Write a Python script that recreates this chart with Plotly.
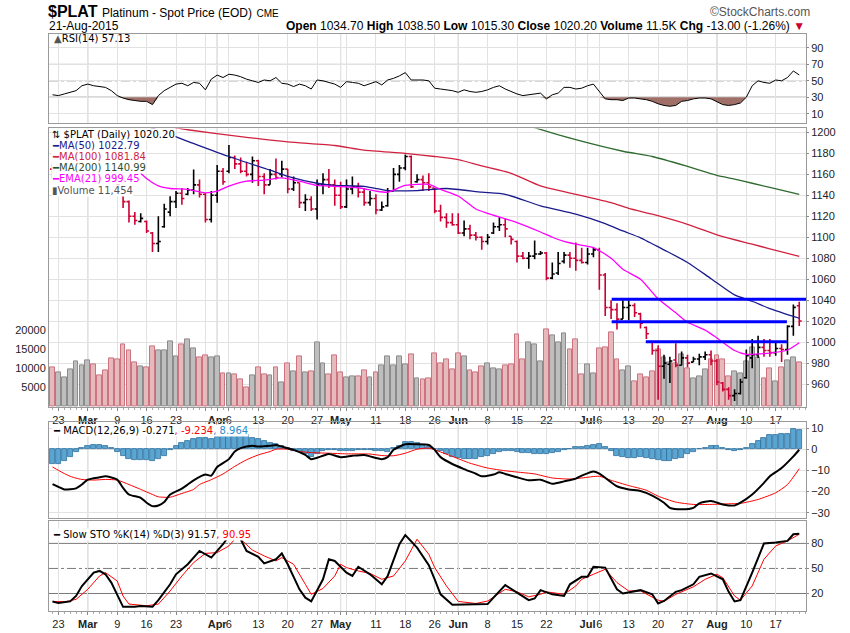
import plotly.graph_objects as go
import pandas as pd

# ---------------- data ----------------
holidays = ["2015-04-03", "2015-05-25", "2015-07-03"]
dates = pd.bdate_range("2015-02-20", "2015-08-21", freq="C", holidays=holidays)
idx = list(range(len(dates)))

opens = [1165,1160,1163,1168,1174,1179,1183,1187,1182,1175,1170,1160,1140,1134,1120,1115,1115,1104,1094,1110,
         1124,1134,1142,1141,1145,1150,1141,1117,1140,1163,1163,1176,1170,1163,1160,1173,1158,1150,1160,1160,
         1165,1146,1152,1133,1136,1127,1150,1155,1150,1140,1129,1146,1148,1143,1133,1137,1126,1130,1144,1160,
         1166,1177,1153,1155,1152,1147,1125,1119,1114,1112,1104,1108,1102,1100,1096,1104,1110,1112,1101,1096,
         1082,1080,1082,1084,1085,1061,1066,1077,1083,1080,1078,1076,1084,1088,1064,1033,1031,1022,1033,1035,
         1027,1014,1000,992,977,979,983,978,985,981,984,986,988,982,961,955,949,951,966,985,
         988,995,992,990,994,993,1015,1034.7]
highs = [1170,1166,1172,1178,1183,1188,1192,1190,1185,1180,1172,1162,1141,1135,1124,1123,1116,1105,1120,1132,
         1139,1144,1147,1147,1164.6,1155,1142,1144,1169,1166,1188,1178,1176,1172,1177,1174,1161,1165,1175,1173,
         1165,1158,1152,1141,1139,1155,1161,1165,1155,1153,1155,1158,1152,1147,1144,1141,1134,1147,1166,1169,
         1179,1178,1160,1159,1161,1147,1131,1123,1123,1123,1116,1112,1105,1101,1103,1114,1119,1118,1101,1097,
         1086,1086,1097,1087,1086,1076,1086,1086,1086,1095,1090,1090,1090,1090,1066,1040,1037,1040,1040,1037,
         1028,1015,1001,997,988,986,999,991,988,986,989,991,992,984,962,957,955,965,993,1003,
         1006,1003,1003,1000,998,1016,1036,1038.5]
lows = [1156,1155,1160,1165,1170,1175,1178,1178,1170,1166,1155,1145,1128,1114,1112,1114,1104,1086,1086,1109,
        1120,1128,1131,1140,1140.9,1138,1114,1114,1133,1150,1161,1165,1161,1158,1152,1149,1141,1150,1155,1157,
        1142,1144,1128,1125,1125,1117,1141,1147,1130,1127,1128,1141,1138,1130,1130,1122,1125,1129,1144,1153,
        1164,1147,1152,1144,1144,1123,1115,1109,1111,1103,1101,1098,1097,1088,1093,1103,1106,1100,1093,1076,
        1079,1070,1079,1083,1059,1060,1064,1075,1071,1068,1075,1074,1081,1050,1025,1022,1012,1022,1021,1024,
        1013,1003,988,945,965,961,976,978,976,981,978,983,978,959,953,945,944,950,965,975,
        985,986,986,987,981,988,1006,1015.3]
closes = [1160,1163,1168,1174,1179,1183,1187,1182,1175,1170,1160,1150,1134,1120,1116,1118,1106,1094,1096,1127,
          1134,1142,1137,1145,1150,1141,1117,1140,1163,1153,1176,1170,1163,1160,1173,1158,1150,1160,1157,1165,
          1146,1152,1133,1136,1127,1150,1155,1150,1140,1129,1146,1148,1143,1133,1137,1126,1129,1144,1160,1166,
          1177,1148,1155,1152,1148,1125,1119,1114,1112,1104,1108,1102,1100,1096,1100,1110,1112,1108,1098,1082,
          1080,1082,1084,1085,1061,1065,1075,1083,1080,1078,1076,1084,1088,1064,1033,1031,1022,1033,1035,1028,
          1018,1008,992,977,980,982,978,985,980,984,986,988,982,962,955,949,951,962,987,988,
          995,992,990,994,993,1015,1033.2,1020.2]
prev_close_before = 1165
volume = [10150,8860,7560,9630,11780,10750,12040,11000,8160,9450,12480,12220,16190,14630,11450,10570,10150,15670,14630,14630,
          16970,13080,16190,17490,15230,12750,13340,12750,13080,8600,8600,8420,7050,5140,8160,10150,8420,8160,10150,6270,
          11190,9200,13080,8860,9200,16790,11190,8330,13340,9030,7740,8000,8000,9450,7560,9030,10750,13080,10750,13080,
          10920,13510,7300,7050,7300,13940,11190,12220,9630,13770,13080,9450,9030,10490,11190,9890,9630,10750,11000,18780,
          12220,16620,16100,11780,20080,18520,16620,18950,14890,17490,8330,11000,8600,15060,15490,19210,12220,9450,10490,6620,
          8420,7560,9200,14890,12750,11450,11360,13510,9890,7300,7910,9630,12220,13340,12220,8000,9200,8590,11780,15490,
          12730,7300,9890,6690,10150,11970,12750,11454]

ma50_x = [0,8,17,23,30,37,40,45,48,53,57,62,67,73,77,83,89,94,97,100,104,108,112,116,119,122,127]
ma50_y = [1232,1218,1204,1191.5,1177,1164,1158,1151.5,1149.5,1148.5,1144.5,1144.5,1146.5,1143,1141,1130,1122,1113,1106,1099.5,1088,1076,1060.5,1045,1039,1032,1022.79]
ma100_x = [0,10,18,23,32,40,48,53,60,65,69,73,78,83,89,95,98,102,108,114,119,122,127]
ma100_y = [1225,1214,1207,1202.5,1196,1191,1187.5,1183,1180,1177,1174,1168,1161,1149,1141,1133,1127.5,1122,1112.4,1100.5,1093.4,1089,1081.84]
ma200_x = [78,82,89,97,102,108,113,116,119,122,127]
ma200_y = [1212,1204.5,1193,1182,1177,1167.5,1159,1155.5,1151.5,1147.5,1140.99]
ema21_x = [10,12,14,16,18,20,23,26,28,30,33,36,39,42,45,48,52,55,57,60,64,66,69,72,74,79,83,85,87,89,92,95,97,100,103,106,108,111,113,116,118,120,122,125,127]
ema21_y = [1185,1175,1166,1156,1149,1146.5,1145.6,1142.4,1144,1148.8,1153.5,1154.5,1156.6,1153.5,1149.4,1148.5,1147.2,1144,1143,1149.4,1150.4,1145.6,1139.3,1127,1122.8,1114,1105,1100,1096,1093.4,1090.2,1080,1069.5,1060,1041.3,1028,1019,1011.5,1004,992,988.3,988.8,989.5,992.5,999.45]

support_levels = [1041, 1019.5, 1000.5]
support_start = [95.1, 95.1, 100.9]
support_end = [128.2, 124.9, 124.9]

rsi = [33,32,34,36,38,44,46,44,43,42,38,32,29,27,26,25,25,21,32,38,
       42,46,47,44,48,47,39,52,57,54,58,57,55,52,50,48,51,50,54,47,
       46,43,46,44,40,51,50,48,46,42,49,48,47,44,47,49,45,51,53,56,
       60,51,51,51,50,41,40,39,38,36,39,37,36,37,39,42,44,40,37,34,
       32,33,34,35,28,33,35,42,42,40,41,44,46,37,28,27,27,26,29,29,
       28,27,25,22,20,19,20,25,26,28,29,29,28,25,21,20,21,23,30,44,
       50,48,47,51,50,54,62,57.13]

macd_x = [0,1,2,4,5,6,8,9,11,12,13,15,16,17,18,19,20,22,23,24,26,27,28,30,31,32,34,35,37,38,39,41,43,44,46,47,49,51,53,54,56,57,58,60,62,64,65,66,68,70,72,73,75,76,77,79,81,83,85,87,89,90,92,93,94,96,98,100,102,104,105,107,109,110,112,114,116,117,119,121,122,124,126,127]
macd_y = [-16.5,-17.8,-19,-18.5,-16.7,-14.4,-13.3,-12.8,-14.4,-18.3,-21.4,-23,-25.3,-26.9,-26.6,-25,-21.4,-18.6,-16.7,-14.7,-12,-12.5,-8.4,-4.7,-1.1,0.5,1.6,1.25,1.6,2.0,1.25,-0.3,-2.7,-4.7,-3.1,-2.3,-3.75,-3.1,-2.7,-3.4,-4.7,-3.75,-0.3,2.3,2.3,2.0,-0.3,-3.75,-7,-9.4,-11.6,-12.8,-12,-10.9,-11.7,-13.3,-14.7,-14.4,-16.3,-15.2,-13.9,-12.5,-10.5,-11.5,-13.5,-17.5,-19,-19.8,-21.9,-25.3,-27.7,-28.4,-27.7,-25.6,-24.5,-26.1,-26.6,-25.3,-21.4,-15.9,-12.8,-8.9,-3.4,-0.271]
signal_x = [0,1,2,3,4,5,7,9,11,13,15,17,18,20,22,24,25,27,29,31,33,35,37,38,40,42,44,47,50,54,56,58,60,62,64,65,68,71,74,77,79,82,85,88,90,93,95,98,101,103,106,109,112,115,117,120,123,125,127]
signal_y = [-8.4,-10.0,-11.5,-12.8,-13.7,-14.3,-14.6,-14.3,-14.6,-16.7,-19,-21.4,-22.5,-22.7,-20.9,-19,-16.7,-14.4,-11.7,-8.1,-5,-2.7,-1.1,0,0,-1.1,-1.6,-1.9,-2.2,-2.3,-3,-3.1,-1.9,0,0.5,-0.3,-3.4,-6.6,-8.9,-10.2,-10.8,-11.7,-13.6,-14.1,-13.6,-12.8,-14.7,-17.2,-19.4,-22.2,-25,-26.1,-26.1,-25.8,-25.6,-23.75,-20.6,-16.7,-9.234]
hist = [-7.2,-6.8,-5.5,-3.5,-1.5,0.8,1.4,1.8,2,1.5,0.5,-1.5,-3,-4.5,-5,-5,-5.3,-5.5,-4.5,-3,
        -0.5,1.5,3,4,5,5.5,5.5,5,6,7,7,7,7,6.5,5.5,5,4,3,2.5,1.5,
        0.5,-0.8,-1.5,-2.5,-3.5,-2.5,-1,-0.4,-0.3,-0.8,-0.8,-0.7,-0.5,-0.5,-0.5,-0.8,-1,-1.2,0.5,1.5,
        3.5,3.2,2.8,2.2,1.2,0.2,-1,-2.5,-3.5,-4.2,-4.5,-4.5,-4.5,-3.8,-3,-2.5,-1.2,-0.8,-1,-1.3,
        -1.6,-2,-2.2,-2.5,-2.5,-2,-1.2,-0.3,0.3,1,1.2,1.5,2,2.5,1,-1,-3,-3.8,-4,-4,
        -3.6,-4,-4.5,-5,-5.5,-5.5,-4.8,-4,-2.5,-1.2,0,0.8,1.5,1.5,0.8,-0.5,-0.8,-0.5,0.5,2.5,
        4,5.5,6.5,6.8,7.0,7.4,9.6,8.964]

stok_x = [0,1,3,4,5,7,8,9,10,11,12,14,15,17,18,20,21,23,25,27,29,30,32,33,35,36,38,39,40,42,43,44,46,47,48,50,51,52,54,56,57,59,60,62,64,65,66,68,70,72,74,75,77,79,81,82,83,85,87,88,90,91,92,94,96,97,99,100,102,103,104,106,107,109,110,112,114,115,116,117,119,121,123,125,126,127]
stok_y = [10.5,8.5,10.5,17,29,45,47,43,33,19,4,4,5,4,12,31,43,55,71,63,79,89,85,71,64,56,61,68,55,25,15,10.5,37,61,59,45,41,52,43,31,41,79,90,75,54,37,19,6.5,6.5,7.3,7.3,15,30,21,12,14,24,19,17,31,40,40,52,51,25,20,23,24,19,8,11,22,24,31,40,44,37,22,10.5,12,45,80,81,83,91,91.57]
stod_x = [0,2,4,6,8,9,11,12,13,16,18,20,22,24,26,28,30,31,32,34,36,38,39,41,43,44,46,48,49,50,52,54,56,58,60,62,64,65,67,69,72,74,77,79,81,83,84,87,89,90,92,94,96,98,100,103,104,106,109,111,113,114,116,117,119,121,123,125,127]
stod_y = [10.5,10,13,25,41,45,35,17,7.3,5.3,7.3,23,41,57,68,69,77,85,85,72,65,59,63,55,31,19,26,41,55,51,47,44,37,41,59,85,67,51,29,10.5,8,11,25,22,16,19,22,19,29,37,43,49,33,23,23,12,10.5,19,28,37,43,39,17,12,29,61,77,83,90.95]

tick_labels = [("2015-02-23", "23"), ("2015-03-02", "<b>Mar</b>"), ("2015-03-09", "9"), ("2015-03-16", "16"),
               ("2015-03-23", "23"), ("2015-03-30", ""), ("2015-04-01", "<b>Apr</b>"), ("2015-04-06", "6"),
               ("2015-04-13", "13"), ("2015-04-20", "20"), ("2015-04-27", "27"), ("2015-05-01", "<b>May</b>"),
               ("2015-05-04", ""), ("2015-05-11", "11"), ("2015-05-18", "18"), ("2015-05-26", "26"),
               ("2015-06-01", "<b>Jun</b>"), ("2015-06-08", "8"), ("2015-06-15", "15"), ("2015-06-22", "22"),
               ("2015-06-29", ""), ("2015-07-01", "<b>Jul</b>"), ("2015-07-06", "6"), ("2015-07-13", "13"),
               ("2015-07-20", "20"), ("2015-07-27", "27"), ("2015-08-03", "<b>Aug</b>"), ("2015-08-10", "10"),
               ("2015-08-17", "17")]
month_starts = ["2015-03-02", "2015-04-01", "2015-05-01", "2015-06-01", "2015-07-01", "2015-08-03"]
volume_ticks = [5000, 10000, 15000, 20000]

# ---------------- helpers ----------------
pos = {d.strftime("%Y-%m-%d"): i for i, d in enumerate(dates)}
tickvals = [pos[d] for d, _ in tick_labels]
ticktext = [t for _, t in tick_labels]
month_pos = [pos[d] for d in month_starts]

prev = [prev_close_before] + closes[:-1]
down = [c < p for c, p in zip(closes, prev)]

RED = "#cc0033"
FONT = "Liberation Sans Narrow, Arial Narrow, Liberation Sans, Arial, sans-serif"
AX_FONT = "Liberation Sans, Arial, sans-serif"
W, H = 850, 633
L, R = 49, 44

def py(p):
    return 1 - p / H

def px(p):
    return (p - L) / (W - L - R)

dom_rsi = [py(122), py(32)]
dom_main = [py(407), py(127)]
dom_macd = [py(518), py(422)]
dom_sto = [py(612), py(521)]
xr = [-0.6, 128.15]

fig = go.Figure()

# RSI panel
base30 = [30] * len(idx)
fig.add_trace(go.Scatter(x=idx, y=base30, mode="lines", line=dict(width=0), xaxis="x", yaxis="y",
                         hoverinfo="skip", showlegend=False))
fig.add_trace(go.Scatter(x=idx, y=[min(v, 30) for v in rsi], mode="lines", line=dict(width=0),
                         fill="tonexty", fillcolor="#a07068", xaxis="x", yaxis="y", hoverinfo="skip",
                         showlegend=False))
fig.add_trace(go.Scatter(x=idx, y=rsi, mode="lines", line=dict(color="black", width=1),
                         xaxis="x", yaxis="y", showlegend=False))

# Volume (base of main panel)
vol_fill = ["#e6b9bd" if d else "#bebebe" for d in down]
vol_line = ["#cc7480" if d else "#8c8c8c" for d in down]
fig.add_trace(go.Bar(x=idx, y=volume, width=0.82, marker=dict(color=vol_fill, line=dict(color=vol_line, width=1)),
                     xaxis="x2", yaxis="y2", showlegend=False))

# Price bars
for flag, col in [(False, "black"), (True, RED)]:
    sel = [i for i in idx if down[i] == flag]
    fig.add_trace(go.Ohlc(x=sel, open=[opens[i] for i in sel], high=[highs[i] for i in sel],
                          low=[lows[i] for i in sel], close=[closes[i] for i in sel],
                          increasing=dict(line=dict(color=col, width=1.6)),
                          decreasing=dict(line=dict(color=col, width=1.6)),
                          tickwidth=0.42, xaxis="x2", yaxis="y3", showlegend=False))

for xs, ys, col, wd in [(ma200_x, ma200_y, "#2f6a2f", 1.3), (ma100_x, ma100_y, "#d0223f", 1.3),
                        (ma50_x, ma50_y, "#1a1a8c", 1.3), (ema21_x, ema21_y, "#ff00ff", 1.3)]:
    fig.add_trace(go.Scatter(x=xs, y=ys, mode="lines", line=dict(color=col, width=wd, shape="spline", smoothing=0.6),
                             xaxis="x2", yaxis="y3", showlegend=False))

for lv, s, e in zip(support_levels, support_start, support_end):
    fig.add_trace(go.Scatter(x=[s, e], y=[lv, lv], mode="lines", line=dict(color="#0000ff", width=3),
                             xaxis="x2", yaxis="y3", showlegend=False))

# MACD panel
fig.add_trace(go.Bar(x=idx, y=hist, width=0.85, marker=dict(color="#5aa5d2", line=dict(color="#2c6f9c", width=0.8)),
                     xaxis="x3", yaxis="y4", showlegend=False))
fig.add_trace(go.Scatter(x=signal_x, y=signal_y, mode="lines", line=dict(color="#ff0000", width=1, shape="spline", smoothing=0.6),
                         xaxis="x3", yaxis="y4", showlegend=False))
fig.add_trace(go.Scatter(x=macd_x, y=macd_y, mode="lines", line=dict(color="black", width=2, shape="spline", smoothing=0.6),
                         xaxis="x3", yaxis="y4", showlegend=False))

# Slow STO panel
fig.add_trace(go.Scatter(x=stod_x, y=stod_y, mode="lines", line=dict(color="#ff0000", width=1),
                         xaxis="x4", yaxis="y5", showlegend=False))
fig.add_trace(go.Scatter(x=stok_x, y=stok_y, mode="lines", line=dict(color="black", width=2),
                         xaxis="x4", yaxis="y5", showlegend=False))

# ---------------- axes ----------------
GRID = "#e2e2e2"
BORDER = "#9a9a9a"
tickfont = dict(family=AX_FONT, size=11, color="#222")

def xax(anchor, labels):
    return dict(range=xr, anchor=anchor, tickmode="array", tickvals=tickvals,
                ticktext=ticktext if labels else [""] * len(tickvals),
                showticklabels=labels, tickangle=0, showgrid=True, gridcolor=GRID, gridwidth=1,
                showline=True, mirror=True, linecolor=BORDER, linewidth=1, zeroline=False,
                ticks="outside" if labels else "", ticklen=3, tickcolor="#888",
                minor=dict(dtick=1, tick0=0, ticks="outside" if labels else "", ticklen=2, tickcolor="#aaa", showgrid=False),
                tickfont=tickfont, fixedrange=True, rangeslider=dict(visible=False))

fig.update_layout(
    width=W, height=H, margin=dict(l=L, r=R, t=0, b=0),
    paper_bgcolor="white", plot_bgcolor="white", bargap=0, showlegend=False,
    xaxis=xax("y", False),
    xaxis2=xax("y2", True),
    xaxis3=xax("y4", False),
    xaxis4=xax("y5", True),
    yaxis=dict(domain=dom_rsi, range=[-1.9, 107.2], side="right", tickvals=[10, 30, 50, 70, 90],
               showgrid=True, gridcolor=GRID, showline=True, mirror=True, linecolor=BORDER,
               zeroline=False, tickfont=tickfont, anchor="x", ticks="outside", ticklen=2, tickcolor="#888"),
    yaxis2=dict(domain=dom_main, range=[-50, 72300], side="left", tickmode="array", tickvals=volume_ticks,
                ticktext=[str(v) for v in volume_ticks],
                showgrid=False, showline=True, mirror=True, linecolor=BORDER, zeroline=False,
                tickfont=tickfont, anchor="x2", ticks=""),
    yaxis3=dict(overlaying="y2", range=[938.1, 1203.8], side="right", anchor="x2",
                tickvals=list(range(960, 1201, 20)), showgrid=True, gridcolor=GRID, zeroline=False,
                tickfont=tickfont, ticks="outside", ticklen=2, tickcolor="#888"),
    yaxis4=dict(domain=dom_macd, range=[-32.3, 12.85], side="right", tickvals=[-30, -20, -10, 0, 10],
                showgrid=True, gridcolor=GRID, showline=True, mirror=True, linecolor=BORDER,
                zeroline=False, tickfont=tickfont, anchor="x3", ticks="outside", ticklen=2, tickcolor="#888"),
    yaxis5=dict(domain=dom_sto, range=[-1.1, 107.4], side="right", tickvals=[20, 50, 80],
                showgrid=False, showline=True, mirror=True, linecolor=BORDER,
                zeroline=False, tickfont=tickfont, anchor="x4", ticks="outside", ticklen=2, tickcolor="#888"),
)

# month separators and reference levels
shapes = []
for xa, ya in [("x", "y"), ("x2", "y2"), ("x3", "y4"), ("x4", "y5")]:
    for m in month_pos:
        shapes.append(dict(type="line", xref=xa, yref=f"{ya} domain", x0=m, x1=m, y0=0, y1=1,
                           line=dict(color="#b9b9b9", width=1), layer="below"))
for ya, lv, dash in [("y", 70, "solid"), ("y", 30, "solid"), ("y", 50, "dashdot"),
                     ("y5", 80, "solid"), ("y5", 20, "solid"), ("y5", 50, "dashdot")]:
    shapes.append(dict(type="line", xref="x" if ya == "y" else "x4", yref=ya, x0=xr[0], x1=xr[1], y0=lv, y1=lv,
                       line=dict(color="#7a7a7a", width=1, dash=dash), layer="below"))
fig.update_layout(shapes=shapes)

# ---------------- texts ----------------
ann = []
def text(x, y, t, size=11, color="#000", family=FONT, xanchor="left", bg=None):
    d = dict(x=px(x), y=py(y), xref="paper", yref="paper", text=t, showarrow=False, xanchor=xanchor,
             yanchor="middle", font=dict(family=family, size=size, color=color), align="left")
    if bg:
        d.update(bgcolor=bg, borderpad=0)
    ann.append(d)

text(46, 10, "<b>$PLAT</b> <span style='font-size:12px'>Platinum - Spot Price (EOD)</span> <span style='font-size:10px'>CME</span>", size=16)
text(47, 24, "21-Aug-2015", size=12)
text(812, 10, "©StockCharts.com", size=12, color="#555", xanchor="right")
text(807, 24, "<b>Open</b> 1034.70 <b>High</b> 1038.50 <b>Low</b> 1015.30 <b>Close</b> 1020.20 "
              "<b>Volume</b> 11.5K <b>Chg</b> -13.00 (-1.26%) <span style='color:#cc0033'>▼</span>", size=12, xanchor="right")

LF = "DejaVu Sans, Verdana, sans-serif"
text(52, 37, "<span style='color:#555'>▲</span>RSI(14) 57.13", size=10, family=LF)
rows = [("⇅ $PLAT (Daily) 1020.20", "#000000"), ("━MA(50) 1022.79", "#1a1a8c"), ("━MA(100) 1081.84", "#d0223f"),
        ("━MA(200) 1140.99", "#2f4f2f"), ("━EMA(21) 999.45", "#ff00ff"), ("▮Volume 11,454", "#555555")]
for k, (t, c) in enumerate(rows):
    text(51, 133 + 11.2 * k, t, size=10, color=c, family=LF, bg="white")
text(52, 431, "━ MACD(12,26,9) -0.271<span style='color:#ff0000'>, -9.234</span><span style='color:#2c8cc8'>, 8.964</span>",
     size=10, family=LF, bg="white")
text(52, 535, "━ Slow STO %K(14) %D(3) 91.57<span style='color:#ff0000'>, 90.95</span>", size=10, family=LF, bg="white")
fig.update_layout(annotations=ann)

fig.write_html("out.html", config={"displayModeBar": False},
               post_script="document.body.style.margin='0px';document.body.style.overflow='hidden';")
